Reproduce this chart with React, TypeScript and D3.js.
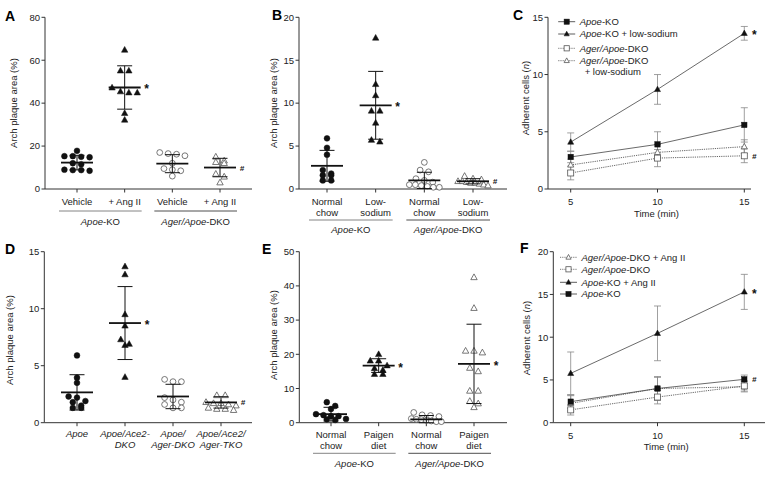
import React from "react";
import * as d3 from "d3";

// ---------------- DATA ----------------
// Panel A
const aCategories = ["Vehicle", "+ Ang II", "Vehicle", "+ Ang II"];
const aGroups = ["*Apoe*-KO", "*Ager/Apoe*-DKO"];
const aValues = [
  [17.8, 15.3, 15.0, 15.3, 14.8, 12.0, 11.5, 8.8, 8.5, 8.8, 9.0],
  [64.8, 55.1, 55.1, 47.2, 44.9, 44.9, 45.4, 35.3, 32.2],
  [16.5, 15.5, 16.2, 17.0, 12.0, 9.5, 9.0, 8.5, 6.0],
  [15.0, 13.2, 12.0, 12.5, 7.0, 5.7, 3.0],
];
const aMeans = [12.3, 47.3, 11.8, 10.0];
const aSDs = [3.4, 10.1, 4.2, 4.3];
const aTicks = [0, 20, 40, 60, 80];

// Panel B
const bCategories = ["Normal\nchow", "Low-\nsodium", "Normal\nchow", "Low-\nsodium"];
const bGroups = ["*Apoe*-KO", "*Ager/Apoe*-DKO"];
const bValues = [
  [5.9, 4.8, 4.0, 2.2, 1.8, 1.6, 1.6, 1.0, 1.0],
  [17.6, 12.2, 10.9, 9.1, 9.1, 7.7, 5.5, 5.7],
  [3.1, 2.2, 2.0, 1.2, 1.0, 0.8, 0.5, 0.4, 0.3, 0.2, 0.5, 0.2],
  [1.5, 1.2, 1.1, 0.9, 0.8, 0.7, 0.6, 0.5, 0.4, 0.9, 0.7],
];
const bMeans = [2.7, 9.75, 1.0, 0.9];
const bSDs = [1.8, 3.95, 0.95, 0.3];
const bTicks = [0, 5, 10, 15, 20];

// Panel C
const timePoints = [5, 10, 15];
const cSeriesNames = ["*Apoe*-KO", "*Apoe*-KO + low-sodium", "*Ager/Apoe*-DKO", "*Ager/Apoe*-DKO\n+ low-sodium"];
const cApoe = [2.8, 3.9, 5.6];
const cApoeErr = [0.5, 1.1, 1.5];
const cApoeLS = [4.1, 8.7, 13.6];
const cApoeLSErr = [0.8, 1.3, 0.6];
const cAger = [1.4, 2.7, 2.9];
const cAgerErr = [0.6, 0.75, 0.6];
const cAgerLS = [2.1, 3.2, 3.7];
const cAgerLSErr = [0.5, 0.7, 0.6];
const cTicks = [0, 5, 10, 15];

// Panel D
const dCategories = ["*Apoe*", "*Apoe/Ace2-*\n*DKO*", "*Apoe/*\n*Ager-DKO*", "*Apoe/Ace2/*\n*Ager-TKO*"];
const dValues = [
  [5.9, 3.95, 3.5, 2.3, 2.2, 1.9, 1.8, 1.5, 1.3, 1.3],
  [13.7, 13.0, 9.5, 8.5, 7.3, 6.9, 6.8, 4.0],
  [3.8, 3.6, 3.6, 2.2, 2.0, 1.8, 1.6, 1.3, 1.3],
  [2.4, 2.4, 1.7, 1.7, 1.6, 1.5, 1.3, 1.2, 1.2, 1.8, 1.1],
];
const dMeans = [2.66, 8.74, 2.3, 1.78];
const dSDs = [1.55, 3.2, 1.07, 0.5];
const dTicks = [0, 5, 10, 15];

// Panel E
const eCategories = ["Normal\nchow", "Paigen\ndiet", "Normal\nchow", "Paigen\ndiet"];
const eGroups = ["*Apoe*-KO", "*Ager/Apoe*-DKO"];
const eValues = [
  [6.0, 4.9, 4.0, 2.5, 2.2, 1.9, 1.9, 1.1, 0.8, 1.0],
  [20.0, 18.1, 18.1, 16.7, 15.4, 15.9, 14.2, 14.2],
  [3.0, 2.3, 2.1, 1.8, 1.2, 1.0, 0.9, 0.7, 0.5, 0.3, 0.3],
  [42.5, 33.5, 21.0, 20.5, 21.0, 16.0, 15.0, 9.3, 9.3, 6.3, 5.6, 4.5],
];
const eMeans = [2.5, 16.7, 1.0, 17.2];
const eSDs = [2.0, 2.0, 1.1, 11.6];
const eTicks = [0, 10, 20, 30, 40, 50];

// Panel F
const fSeriesNames = ["*Ager/Apoe*-DKO  + Ang II", "*Ager/Apoe*-DKO", "*Apoe*-KO  + Ang II", "*Apoe*-KO"];
const fAgerAng = [2.26, 4.0, 4.2];
const fAgerAngErr = [0.9, 1.3, 0.6];
const fAger = [1.5, 3.0, 4.3];
const fAgerErr = [0.6, 0.8, 0.6];
const fApoeAng = [5.77, 10.45, 15.3];
const fApoeAngErr = [2.5, 3.2, 2.05];
const fApoe = [2.46, 4.0, 5.07];
const fApoeErr = [0.8, 1.4, 0.5];
const fTicks = [0, 5, 10, 15, 20];

// ---------------- HELPERS ----------------
const FONT = "'Liberation Sans', Arial, Helvetica, sans-serif";
const AX = "#333";
const FS = 9.5;

function rich(str: string) {
  return str.split("*").map((p, i) =>
    p ? (
      <tspan key={i} fontStyle={i % 2 === 1 ? "italic" : "normal"}>
        {p}
      </tspan>
    ) : null
  );
}

type MType = "circle" | "circleOpen" | "triangle" | "triangleOpen" | "square" | "squareOpen";

function Marker({ type, x, y, s }: { type: MType; x: number; y: number; s: number }) {
  const filled = !type.endsWith("Open");
  const fill = filled ? "#111" : "#fff";
  const stroke = filled ? "#111" : "#555";
  const sw = filled ? 0.5 : 0.8;
  if (type.startsWith("circle")) {
    return <circle cx={x} cy={y} r={s / 2} fill={fill} stroke={stroke} strokeWidth={sw} />;
  }
  if (type.startsWith("square")) {
    return <rect x={x - s / 2} y={y - s / 2} width={s} height={s} fill={fill} stroke={stroke} strokeWidth={sw} />;
  }
  const h = s * 0.9;
  const p = `M${x},${y - h * 0.6}L${x + s / 2},${y + h * 0.4}L${x - s / 2},${y + h * 0.4}Z`;
  return <path d={p} fill={fill} stroke={stroke} strokeWidth={sw} />;
}

function layoutPoints(values: number[], y: d3.ScaleLinear<number, number>, cx: number, r: number) {
  const sorted = values.map((v) => ({ v, py: y(v) })).sort((a, b) => a.py - b.py);
  const rows: { v: number; py: number }[][] = [];
  for (const p of sorted) {
    const last = rows[rows.length - 1];
    if (last && p.py - last[0].py < r * 1.7) last.push(p);
    else rows.push([p]);
  }
  const out: { x: number; y: number }[] = [];
  rows.forEach((row) => {
    const n = row.length;
    const sp = Math.min(2 * r + 2.4, 30 / Math.max(n - 1, 1));
    row.forEach((p, i) => out.push({ x: cx + (i - (n - 1) / 2) * sp, y: p.py }));
  });
  return out;
}

type ScatterCfg = {
  letter: string;
  letterPos: [number, number];
  x0: number;
  x1: number;
  yTop: number;
  yBottom: number;
  max: number;
  ticks: number[];
  cats: string[];
  catRange: [number, number];
  catY: number;
  groups?: string[];
  groupLineY?: number;
  groupLabelY?: number;
  values: number[][];
  means: number[];
  sds: number[];
  markers: MType[];
  yLabelPos: [number, number];
  annotations: { idx: number; sym: string }[];
};

function ScatterPanel({ c }: { c: ScatterCfg }) {
  const y = d3.scaleLinear().domain([0, c.max]).range([c.yBottom, c.yTop]);
  const x = d3
    .scalePoint<string>()
    .domain(c.cats.map((_, i) => String(i)))
    .range(c.catRange);
  const r = 3;
  return (
    <g fontFamily={FONT}>
      <text x={c.letterPos[0]} y={c.letterPos[1]} fontSize={14} fontWeight="bold" fill="#000">
        {c.letter}
      </text>
      {/* y axis */}
      <line x1={c.x0} x2={c.x0} y1={c.yTop} y2={c.yBottom} stroke={AX} strokeWidth={1} />
      {c.ticks.map((t) => (
        <g key={t}>
          <line x1={c.x0 - 3.5} x2={c.x0} y1={y(t)} y2={y(t)} stroke={AX} />
          <text x={c.x0 - 5} y={y(t) + 3.3} fontSize={FS} textAnchor="end" fill="#222">
            {t}
          </text>
        </g>
      ))}
      <text
        transform={`translate(${c.yLabelPos[0]},${c.yLabelPos[1]}) rotate(-90)`}
        fontSize={FS}
        textAnchor="middle"
        fill="#222"
      >
        Arch plaque area (%)
      </text>
      {/* x axis */}
      <line x1={c.x0} x2={c.x1} y1={c.yBottom} y2={c.yBottom} stroke={AX} />
      {c.cats.map((cat, i) => {
        const cx = x(String(i))!;
        const lines = cat.split("\n");
        return (
          <g key={i}>
            <line x1={cx} x2={cx} y1={c.yBottom} y2={c.yBottom + 3.5} stroke={AX} />
            {lines.map((ln, j) => (
              <text key={j} x={cx} y={c.catY + j * 11} fontSize={FS} textAnchor="middle" fill="#222">
                {rich(ln)}
              </text>
            ))}
          </g>
        );
      })}
      {c.groups &&
        c.groups.map((g, gi) => {
          const a = x(String(gi * 2))! - 18;
          const b = x(String(gi * 2 + 1))! + 17;
          return (
            <g key={gi}>
              <line x1={a} x2={b} y1={c.groupLineY} y2={c.groupLineY} stroke={gi === 0 ? "#666" : "#222"} strokeWidth={0.8} />
              <text x={(a + b) / 2} y={c.groupLabelY} fontSize={FS} textAnchor="middle" fill="#222">
                {rich(g)}
              </text>
            </g>
          );
        })}
      {/* points */}
      {c.values.map((vals, i) => {
        const cx = x(String(i))!;
        const pts = layoutPoints(vals, y, cx, r);
        return (
          <g key={i}>
            {pts.map((p, j) => (
              <Marker key={j} type={c.markers[i]} x={p.x} y={p.y} s={c.markers[i].startsWith("circle") ? 5.8 : 6.4} />
            ))}
          </g>
        );
      })}
      {/* mean & sd */}
      {c.means.map((m, i) => {
        const cx = x(String(i))!;
        const top = y(m + c.sds[i]);
        const bot = y(Math.max(0, m - c.sds[i]));
        return (
          <g key={i} stroke="#111">
            <line x1={cx} x2={cx} y1={top} y2={bot} strokeWidth={1} />
            <line x1={cx - 7.5} x2={cx + 7.5} y1={top} y2={top} strokeWidth={1} />
            <line x1={cx - 7.5} x2={cx + 7.5} y1={bot} y2={bot} strokeWidth={1} />
            <line x1={cx - 16} x2={cx + 16} y1={y(m)} y2={y(m)} strokeWidth={1.8} />
          </g>
        );
      })}
      {c.annotations.map((a, k) => {
        const cx = x(String(a.idx))!;
        return (
          <text key={k} x={cx + 22} y={y(c.means[a.idx]) + (a.sym === "*" ? 6 : 3)} fontSize={a.sym === "*" ? 12 : 8} fontWeight="bold" fontStyle={a.sym === "#" ? "italic" : "normal"} textAnchor="middle" fill="#111">
            {a.sym}
          </text>
        );
      })}
    </g>
  );
}

type Series = { name: string; values: number[]; errs: number[]; marker: MType; dotted: boolean };

type LineCfg = {
  letter: string;
  letterPos: [number, number];
  x0: number;
  x1: number;
  yTop: number;
  yBottom: number;
  max: number;
  ticks: number[];
  series: Series[];
  legendX: number;
  legendYs: number[];
  yLabelPos: [number, number];
  annotations: { idx: number; sym: string }[];
};

function LinePanel({ c }: { c: LineCfg }) {
  const x = d3.scaleLinear().domain([5, 15]).range([570.7, 744.3]);
  const y = d3.scaleLinear().domain([0, c.max]).range([c.yBottom, c.yTop]);
  const line = d3
    .line<number>()
    .x((_, i) => x(timePoints[i]))
    .y((d) => y(d));
  return (
    <g fontFamily={FONT}>
      <text x={c.letterPos[0]} y={c.letterPos[1]} fontSize={14} fontWeight="bold" fill="#000">
        {c.letter}
      </text>
      <line x1={c.x0} x2={c.x0} y1={c.yTop} y2={c.yBottom} stroke={AX} />
      {c.ticks.map((t) => (
        <g key={t}>
          <line x1={c.x0 - 3.5} x2={c.x0} y1={y(t)} y2={y(t)} stroke={AX} />
          <text x={c.x0 - 5} y={y(t) + 3.3} fontSize={FS} textAnchor="end" fill="#222">
            {t}
          </text>
        </g>
      ))}
      <text transform={`translate(${c.yLabelPos[0]},${c.yLabelPos[1]}) rotate(-90)`} fontSize={FS} textAnchor="middle" fill="#222">
        Adherent cells (<tspan fontStyle="italic">n</tspan>)
      </text>
      <line x1={c.x0} x2={c.x1} y1={c.yBottom} y2={c.yBottom} stroke={AX} />
      {timePoints.map((t) => (
        <g key={t}>
          <line x1={x(t)} x2={x(t)} y1={c.yBottom} y2={c.yBottom + 3.5} stroke={AX} />
          <text x={x(t)} y={c.yBottom + 16} fontSize={FS} textAnchor="middle" fill="#222">
            {t}
          </text>
        </g>
      ))}
      <text x={(c.x0 + c.x1) / 2 + 7} y={c.yBottom + 27.5} fontSize={FS} textAnchor="middle" fill="#222">
        Time (min)
      </text>
      {/* error bars */}
      {c.series.map((s, si) => (
        <g key={si} stroke="#888" strokeWidth={0.8}>
          {s.values.map((v, i) => {
            const px = x(timePoints[i]);
            const t = y(v + s.errs[i]);
            const b = y(Math.max(0, v - s.errs[i]));
            return (
              <g key={i}>
                <line x1={px} x2={px} y1={t} y2={b} />
                <line x1={px - 3.5} x2={px + 3.5} y1={t} y2={t} />
                <line x1={px - 3.5} x2={px + 3.5} y1={b} y2={b} />
              </g>
            );
          })}
        </g>
      ))}
      {c.series.map((s, si) => (
        <path key={si} d={line(s.values)!} fill="none" stroke={s.dotted ? "#555" : "#444"} strokeWidth={s.dotted ? 0.9 : 0.8} strokeDasharray={s.dotted ? "1.2,1" : undefined} />
      ))}
      {c.series.map((s, si) => (
        <g key={si}>
          {s.values.map((v, i) => (
            <Marker key={i} type={s.marker} x={x(timePoints[i])} y={y(v)} s={s.marker.startsWith("square") ? (s.marker === "squareOpen" ? 6 : 5.4) : 6} />
          ))}
        </g>
      ))}
      {c.annotations.map((a, k) => {
        const s = c.series[a.idx];
        return (
          <text key={k} x={x(15) + 10} y={y(s.values[2]) + (a.sym === "*" ? 6 : 3)} fontSize={a.sym === "*" ? 12 : 8} fontWeight="bold" fontStyle={a.sym === "#" ? "italic" : "normal"} textAnchor="middle" fill="#111">
            {a.sym}
          </text>
        );
      })}
      {/* legend */}
      {c.series.map((s, si) => {
        const ly = c.legendYs[si];
        const lines = s.name.split("\n");
        return (
          <g key={si}>
            <line x1={c.legendX - 8.5} x2={c.legendX + 8.5} y1={ly} y2={ly} stroke={s.dotted ? "#555" : "#333"} strokeWidth={0.8} strokeDasharray={s.dotted ? "1.2,1" : undefined} />
            <Marker type={s.marker} x={c.legendX} y={ly} s={5.2} />
            {lines.map((ln, j) => (
              <text key={j} x={c.legendX + 13 + (j > 0 ? 5 : 0)} y={ly + 3.3 + j * 11} fontSize={FS} fill="#222">
                {rich(ln)}
              </text>
            ))}
          </g>
        );
      })}
    </g>
  );
}

// ---------------- CONFIGS ----------------
const panelA: ScatterCfg = {
  letter: "A", letterPos: [5, 21], x0: 45, x1: 252, yTop: 17.3, yBottom: 189, max: 80, ticks: aTicks,
  cats: aCategories, catRange: [77, 220], catY: 205, groups: aGroups, groupLineY: 211, groupLabelY: 225,
  values: aValues, means: aMeans, sds: aSDs, markers: ["circle", "triangle", "circleOpen", "triangleOpen"],
  yLabelPos: [17, 103], annotations: [{ idx: 1, sym: "*" }, { idx: 3, sym: "#" }],
};
const panelB: ScatterCfg = {
  letter: "B", letterPos: [272, 20], x0: 299, x1: 507, yTop: 17.3, yBottom: 189, max: 20, ticks: bTicks,
  cats: bCategories, catRange: [327, 473], catY: 205, groups: bGroups, groupLineY: 220, groupLabelY: 233,
  values: bValues, means: bMeans, sds: bSDs, markers: ["circle", "triangle", "circleOpen", "triangleOpen"],
  yLabelPos: [277, 103], annotations: [{ idx: 1, sym: "*" }, { idx: 3, sym: "#" }],
};
const panelC: LineCfg = {
  letter: "C", letterPos: [513, 20], x0: 548, x1: 751, yTop: 17.3, yBottom: 189, max: 15, ticks: cTicks,
  series: [
    { name: cSeriesNames[0], values: cApoe, errs: cApoeErr, marker: "square", dotted: false },
    { name: cSeriesNames[1], values: cApoeLS, errs: cApoeLSErr, marker: "triangle", dotted: false },
    { name: cSeriesNames[2], values: cAger, errs: cAgerErr, marker: "squareOpen", dotted: true },
    { name: cSeriesNames[3], values: cAgerLS, errs: cAgerLSErr, marker: "triangleOpen", dotted: true },
  ],
  legendX: 566.7, legendYs: [21.7, 34, 48.3, 60.7], yLabelPos: [529, 98],
  annotations: [{ idx: 1, sym: "*" }, { idx: 2, sym: "#" }],
};
const panelD: ScatterCfg = {
  letter: "D", letterPos: [5, 254], x0: 44.3, x1: 252, yTop: 251.7, yBottom: 422.7, max: 15, ticks: dTicks,
  cats: dCategories, catRange: [77, 221], catY: 437,
  values: dValues, means: dMeans, sds: dSDs, markers: ["circle", "triangle", "circleOpen", "triangleOpen"],
  yLabelPos: [13, 340], annotations: [{ idx: 1, sym: "*" }, { idx: 3, sym: "#" }],
};
const panelE: ScatterCfg = {
  letter: "E", letterPos: [262, 254], x0: 299.3, x1: 507, yTop: 251.7, yBottom: 422.7, max: 50, ticks: eTicks,
  cats: eCategories, catRange: [331, 474], catY: 437.5, groups: eGroups, groupLineY: 453.3, groupLabelY: 467,
  values: eValues, means: eMeans, sds: eSDs, markers: ["circle", "triangle", "circleOpen", "triangleOpen"],
  yLabelPos: [277, 335], annotations: [{ idx: 1, sym: "*" }, { idx: 3, sym: "*" }],
};
const panelF: LineCfg = {
  letter: "F", letterPos: [520, 253], x0: 553.3, x1: 765, yTop: 251.7, yBottom: 422.7, max: 20, ticks: fTicks,
  series: [
    { name: fSeriesNames[0], values: fAgerAng, errs: fAgerAngErr, marker: "triangleOpen", dotted: true },
    { name: fSeriesNames[1], values: fAger, errs: fAgerErr, marker: "squareOpen", dotted: true },
    { name: fSeriesNames[2], values: fApoeAng, errs: fApoeAngErr, marker: "triangle", dotted: false },
    { name: fSeriesNames[3], values: fApoe, errs: fApoeErr, marker: "square", dotted: false },
  ],
  legendX: 568.5, legendYs: [257.3, 269.3, 282.3, 294], yLabelPos: [530, 338],
  annotations: [{ idx: 2, sym: "*" }, { idx: 3, sym: "#" }],
};

export default function App() {
  return (
    <svg
      width={768}
      height={481}
      viewBox="0 0 768 481"
      style={{ position: "absolute", left: 0, top: 0, background: "#fff" }}
    >
      <rect width={768} height={481} fill="#fff" />
      <ScatterPanel c={panelA} />
      <ScatterPanel c={panelB} />
      <LinePanel c={panelC} />
      <ScatterPanel c={panelD} />
      <ScatterPanel c={panelE} />
      <LinePanel c={panelF} />
    </svg>
  );
}
